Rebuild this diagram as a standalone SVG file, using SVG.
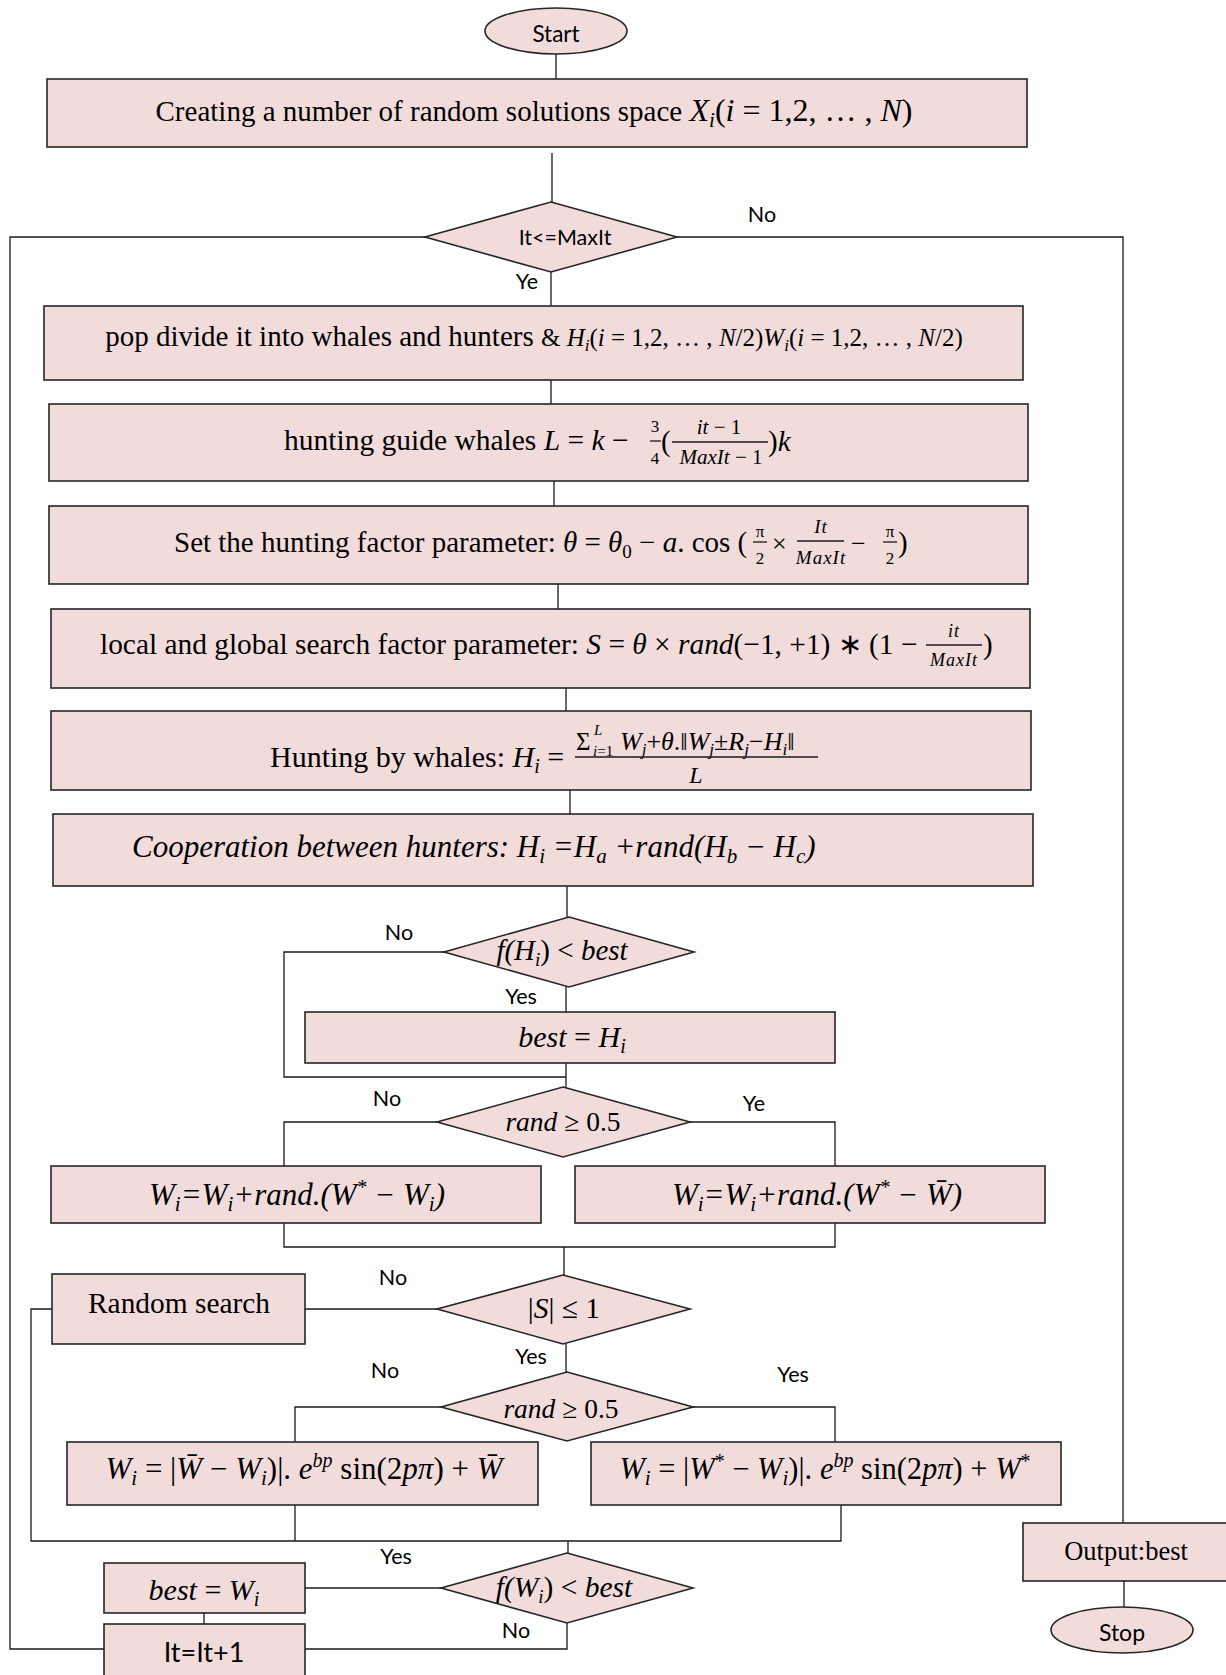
<svg xmlns="http://www.w3.org/2000/svg" width="1226" height="1675" viewBox="0 0 1226 1675">
<style>
.box{fill:#f2dcdb;stroke:#262626;stroke-width:1.6}
.ln{fill:none;stroke:#1a1a1a;stroke-width:1.3}
.t{font-family:"Liberation Serif","Times New Roman",serif;fill:#000}
.c{font-family:Lato,"Open Sans",sans-serif;fill:#000}
.lb{font-size:21.5px}
.i{font-style:italic}
.m{text-anchor:middle}
</style>
<rect width="1226" height="1675" fill="#fff"/>
<g id="connectors">
<path class="ln" d="M556,54V79"/>
<path class="ln" d="M552,153V202"/>
<path class="ln" d="M425,237H10V1649H104"/>
<path class="ln" d="M677,237H1123V1523"/>
<path class="ln" d="M551,272V306"/>
<path class="ln" d="M551,380V404"/>
<path class="ln" d="M554,481V506"/>
<path class="ln" d="M558,584V609"/>
<path class="ln" d="M566,688V711"/>
<path class="ln" d="M570,790V814"/>
<path class="ln" d="M567,886V917"/>
<path class="ln" d="M444,952H284V1077H566"/>
<path class="ln" d="M566,987V1012"/>
<path class="ln" d="M566,1063V1087"/>
<path class="ln" d="M437,1122H284V1166"/>
<path class="ln" d="M690,1122H835V1166"/>
<path class="ln" d="M284,1223V1247H835V1223"/>
<path class="ln" d="M564,1247V1275"/>
<path class="ln" d="M437,1309H305"/>
<path class="ln" d="M52,1309H31V1541H841V1505"/>
<path class="ln" d="M295,1505V1541"/>
<path class="ln" d="M566,1344V1372"/>
<path class="ln" d="M441,1407H295V1442"/>
<path class="ln" d="M693,1407H835V1442"/>
<path class="ln" d="M568,1541V1553"/>
<path class="ln" d="M441,1588H305"/>
<path class="ln" d="M204,1613V1624"/>
<path class="ln" d="M567,1623V1649H305"/>
<path class="ln" d="M1124,1581V1607"/>
</g>
<g id="start"><ellipse class="box" cx="556" cy="31" rx="71" ry="23"/><text class="c m" x="556" y="42" style="font-size:22.5px">Start</text></g>
<g id="init"><rect class="box" x="47" y="79" width="980" height="68"/>
<text class="t m" x="534" y="121" font-size="29">Creating a number of random solutions space <tspan class="i" font-size="32">X</tspan><tspan class="i" font-size="21" dy="6">i</tspan><tspan font-size="32" dy="-6">(<tspan class="i">i</tspan> = 1,2, … , <tspan class="i">N</tspan>)</tspan></text></g>
<g id="cond-maxit"><polygon class="box" points="551,202 677,237 551,272 425,237"/><text class="c lb m" x="565" y="245">It&lt;=MaxIt</text></g>
<g id="divide"><rect class="box" x="44" y="306" width="979" height="74"/>
<text class="t m" x="534" y="346" font-size="29">pop divide it into whales and hunters <tspan font-size="25">&amp; <tspan class="i">H</tspan><tspan class="i" font-size="17" dy="5">i</tspan><tspan dy="-5">(<tspan class="i">i</tspan> = 1,2, … , <tspan class="i">N</tspan>/2)<tspan class="i">W</tspan></tspan><tspan class="i" font-size="17" dy="5">i</tspan><tspan dy="-5">(<tspan class="i">i</tspan> = 1,2, … , <tspan class="i">N</tspan>/2)</tspan></tspan></text></g>
<g id="guide"><rect class="box" x="49" y="404" width="979" height="77"/>
<text class="t" x="284" y="450" font-size="29.5">hunting guide whales <tspan class="i">L</tspan> = <tspan class="i">k</tspan> −</text>
<text class="t m" x="655" y="432" font-size="17">3</text><path class="ln" d="M650,441H661"/><text class="t m" x="655" y="464" font-size="17">4</text>
<text class="t" x="661" y="451" font-size="29">(</text>
<text class="t m" x="719" y="434" font-size="21"><tspan class="i">it</tspan> − 1</text>
<path class="ln" d="M672,442H768"/>
<text class="t m" x="721" y="464" font-size="21"><tspan class="i">MaxIt</tspan> − 1</text>
<text class="t" x="768" y="451" font-size="29">)<tspan class="i">k</tspan></text></g>
<g id="theta"><rect class="box" x="49" y="506" width="979" height="78"/>
<text class="t" x="174" y="552" font-size="29">Set the hunting factor parameter: <tspan class="i">θ</tspan> = <tspan class="i">θ</tspan><tspan font-size="19" dy="6">0</tspan><tspan dy="-6"> − <tspan class="i">a</tspan>. cos (</tspan></text>
<text class="t m" x="760" y="537" font-size="17">π</text><path class="ln" d="M753,542H767"/><text class="t m" x="760" y="564" font-size="17">2</text>
<text class="t" x="772" y="552" font-size="26">×</text>
<text class="t m i" x="821" y="533" font-size="19" letter-spacing="1">It</text><path class="ln" d="M797,541H844"/><text class="t m i" x="821" y="564" font-size="19" letter-spacing="1">MaxIt</text>
<text class="t" x="851" y="552" font-size="26">−</text>
<text class="t m" x="890" y="537" font-size="17">π</text><path class="ln" d="M883,542H897"/><text class="t m" x="890" y="564" font-size="17">2</text>
<text class="t" x="898" y="552" font-size="29">)</text></g>
<g id="search"><rect class="box" x="51" y="609" width="979" height="79"/>
<text class="t" x="100" y="654" font-size="29.4">local and global search factor parameter: <tspan class="i">S</tspan> = <tspan class="i">θ</tspan> × <tspan class="i">rand</tspan>(−1, +1) ∗ (1 −</text>
<text class="t m i" x="954" y="637" font-size="18" letter-spacing="1">it</text><path class="ln" d="M926,645H982"/><text class="t m i" x="954" y="666" font-size="18" letter-spacing="1">MaxIt</text>
<text class="t" x="983" y="654" font-size="29">)</text></g>
<g id="hunting"><rect class="box" x="51" y="711" width="980" height="79"/>
<text class="t" x="270" y="767" font-size="30">Hunting by whales: <tspan class="i">H</tspan><tspan class="i" font-size="20" dy="6">i</tspan><tspan dy="-6"> =</tspan></text>
<text class="t" x="576" y="750" font-size="25">Σ</text>
<text class="t i" x="594" y="735" font-size="15">L</text>
<text class="t" x="593" y="756" font-size="15"><tspan class="i">i</tspan>=1</text>
<text class="t" x="620" y="750" font-size="26"><tspan class="i">W</tspan><tspan class="i" font-size="17" dy="5">j</tspan><tspan dy="-5">+<tspan class="i">θ</tspan>.‖<tspan class="i">W</tspan></tspan><tspan class="i" font-size="17" dy="5">j</tspan><tspan dy="-5">±<tspan class="i">R</tspan></tspan><tspan class="i" font-size="17" dy="5">j</tspan><tspan dy="-5">−<tspan class="i">H</tspan></tspan><tspan class="i" font-size="17" dy="5">i</tspan><tspan dy="-5">‖</tspan></text>
<path class="ln" d="M575,757H818" stroke-width="1.7"/>
<text class="t m i" x="696" y="783" font-size="24">L</text></g>
<g id="coop"><rect class="box" x="53" y="814" width="980" height="72"/>
<text class="t i" x="132" y="857" font-size="31">Cooperation between hunters: H<tspan font-size="21" dy="6">i</tspan><tspan dy="-6"> =H</tspan><tspan font-size="21" dy="6">a</tspan><tspan dy="-6"> +rand(H</tspan><tspan font-size="21" dy="6">b</tspan><tspan dy="-6"> − H</tspan><tspan font-size="21" dy="6">c</tspan><tspan dy="-6">)</tspan></text></g>
<g id="cond-fh"><polygon class="box" points="569,917 694,952 569,987 444,952"/>
<text class="t m i" x="562" y="960" font-size="29">f(H<tspan font-size="19" dy="6">i</tspan><tspan dy="-6" font-style="normal">) &lt; </tspan>best</text></g>
<g id="best-h"><rect class="box" x="305" y="1012" width="530" height="51"/>
<text class="t m i" x="572" y="1047" font-size="30">best <tspan font-style="normal">=</tspan> H<tspan font-size="20" dy="6">i</tspan></text></g>
<g id="cond-rand1"><polygon class="box" points="563,1087 690,1122 563,1157 437,1122"/>
<text class="t m" x="563" y="1131" font-size="27.5"><tspan class="i">rand</tspan> ≥ 0.5</text></g>
<g id="w-star"><rect class="box" x="51" y="1166" width="490" height="57"/>
<text class="t m i" x="297" y="1205" font-size="31">W<tspan font-size="21" dy="6">i</tspan><tspan dy="-6">=W</tspan><tspan font-size="21" dy="6">i</tspan><tspan dy="-6">+rand.(W</tspan><tspan font-size="20" dy="-11">*</tspan><tspan dy="11"> − W</tspan><tspan font-size="21" dy="6">i</tspan><tspan dy="-6">)</tspan></text></g>
<g id="w-mean"><rect class="box" x="575" y="1166" width="470" height="57"/>
<text class="t m i" x="817" y="1205" font-size="31">W<tspan font-size="21" dy="6">i</tspan><tspan dy="-6">=W</tspan><tspan font-size="21" dy="6">i</tspan><tspan dy="-6">+rand.(W</tspan><tspan font-size="20" dy="-11">*</tspan><tspan dy="11"> − W̄)</tspan></text></g>
<g id="cond-s"><polygon class="box" points="563,1275 690,1309 563,1344 437,1309"/>
<text class="t m" x="564" y="1318" font-size="29.5">|<tspan class="i">S</tspan>| ≤ 1</text></g>
<g id="random"><rect class="box" x="52" y="1274" width="253" height="70"/>
<text class="t m" x="179" y="1313" font-size="29.4">Random search</text></g>
<g id="cond-rand2"><polygon class="box" points="567,1372 693,1407 567,1441 441,1407"/>
<text class="t m" x="561" y="1418" font-size="27.5"><tspan class="i">rand</tspan> ≥ 0.5</text></g>
<g id="spiral-mean"><rect class="box" x="67" y="1442" width="471" height="63"/>
<text class="t m" x="304" y="1479" font-size="31"><tspan class="i">W</tspan><tspan class="i" font-size="21" dy="6">i</tspan><tspan dy="-6"> = |<tspan class="i">W̄</tspan> − <tspan class="i">W</tspan></tspan><tspan class="i" font-size="21" dy="6">i</tspan><tspan dy="-6">)|. <tspan class="i">e</tspan></tspan><tspan class="i" font-size="20" dy="-12">bp</tspan><tspan dy="12"> sin(2<tspan class="i">pπ</tspan>) + <tspan class="i">W̄</tspan></tspan></text></g>
<g id="spiral-star"><rect class="box" x="591" y="1442" width="470" height="63"/>
<text class="t m" x="825" y="1479" font-size="30.5"><tspan class="i">W</tspan><tspan class="i" font-size="21" dy="6">i</tspan><tspan dy="-6"> = |<tspan class="i">W</tspan></tspan><tspan font-size="20" dy="-11">*</tspan><tspan dy="11"> − <tspan class="i">W</tspan></tspan><tspan class="i" font-size="21" dy="6">i</tspan><tspan dy="-6">)|. <tspan class="i">e</tspan></tspan><tspan class="i" font-size="20" dy="-12">bp</tspan><tspan dy="12"> sin(2<tspan class="i">pπ</tspan>) + <tspan class="i">W</tspan></tspan><tspan font-size="20" dy="-11">*</tspan></text></g>
<g id="cond-fw"><polygon class="box" points="567,1553 693,1588 567,1623 441,1588"/>
<text class="t m i" x="564" y="1597" font-size="29.5">f(W<tspan font-size="19" dy="6">i</tspan><tspan dy="-6" font-style="normal">) &lt; </tspan>best</text></g>
<g id="best-w"><rect class="box" x="104" y="1563" width="201" height="50"/>
<text class="t m i" x="204" y="1600" font-size="30">best <tspan font-style="normal">=</tspan> W<tspan font-size="20" dy="6">i</tspan></text></g>
<g id="incr"><rect class="box" x="104" y="1624" width="201" height="70"/>
<text class="c m" x="204" y="1662" style="font-size:27px">It=It+1</text></g>
<g id="output"><rect class="box" x="1023" y="1523" width="220" height="58"/>
<text class="t m" x="1126" y="1560" font-size="26.5">Output:best</text></g>
<g id="stop"><ellipse class="box" cx="1122" cy="1630" rx="71" ry="23"/><text class="c m" x="1122" y="1641" style="font-size:23px">Stop</text></g>
<g id="labels">
<text class="c lb m" x="762" y="222">No</text>
<text class="c lb m" x="527" y="289">Ye</text>
<text class="c lb m" x="399" y="940">No</text>
<text class="c lb m" x="521" y="1004">Yes</text>
<text class="c lb m" x="387" y="1106">No</text>
<text class="c lb m" x="754" y="1111">Ye</text>
<text class="c lb m" x="393" y="1285">No</text>
<text class="c lb m" x="531" y="1364">Yes</text>
<text class="c lb m" x="385" y="1378">No</text>
<text class="c lb m" x="793" y="1382">Yes</text>
<text class="c lb m" x="396" y="1564">Yes</text>
<text class="c lb m" x="516" y="1638">No</text>
</g>
</svg>
